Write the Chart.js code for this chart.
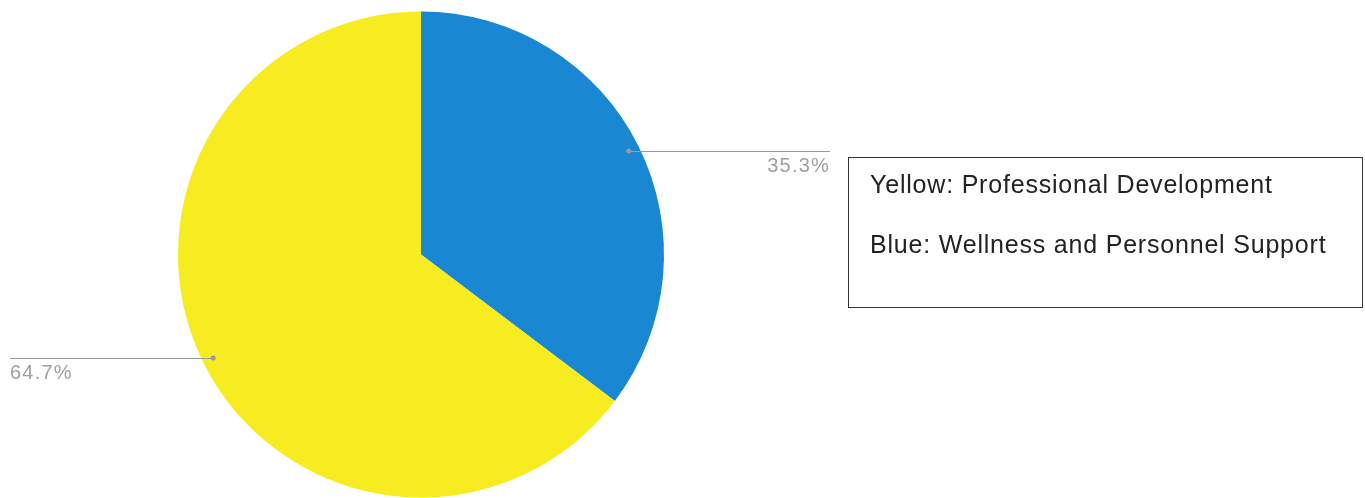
<!DOCTYPE html>
<html lang="en">
<head>
    <meta charset="UTF-8">
    <title>Support Split</title>
    <script src="https://cdn.jsdelivr.net/npm/chart.js@4/dist/chart.umd.min.js"></script>
    <style>
        body { margin: 0; background: #fff; width: 1365px; height: 498px; overflow: hidden; position: relative; font-family: "Liberation Sans", Arial, sans-serif; }
        #wrap { position: absolute; left: 0; top: 0; width: 1365px; height: 498px; }
        .key { position: absolute; left: 848px; top: 157px; width: 513px; height: 149px; border: 1px solid #333; }
        .key div { position: absolute; left: 21px; font-size: 25px; letter-spacing: 0.8px; color: #222; white-space: nowrap; }
    </style>
</head>
<body>
<div id="wrap"><canvas id="pieChart" width="1365" height="498"></canvas></div>
<div class="key" id="key"></div>

<script>
    // data
    const categories = ['Wellness and Personnel Support', 'Professional Development'];
    const colourNames = ['Blue', 'Yellow'];
    const shares = [35.3, 64.7];
    const colours = ['#1a87d3', '#f6ec1f'];

    // legend box, yellow first as in the original
    const key = document.getElementById('key');
    [1, 0].forEach((i, row) => {
        const d = document.createElement('div');
        d.style.top = (12 + row * 60) + 'px';
        d.textContent = colourNames[i] + ': ' + categories[i];
        key.appendChild(d);
    });

    // leader lines with the percentage under them
    const leaderLabels = {
        id: 'leaderLabels',
        afterDatasetsDraw(chart) {
            const ctx = chart.ctx;
            const total = shares.reduce((a, b) => a + b, 0);
            chart.getDatasetMeta(0).data.forEach((arc, i) => {
                const mid = (arc.startAngle + arc.endAngle) / 2;
                const r = arc.outerRadius * 0.955;
                const px = arc.x + Math.cos(mid) * r;
                const py = arc.y + Math.sin(mid) * r;
                const right = Math.cos(mid) >= 0;
                const endX = right ? 830 : 10;
                const txt = (shares[i] / total * 100).toFixed(1) + '%';

                ctx.save();
                ctx.strokeStyle = '#9a9a9a';
                ctx.lineWidth = 1;
                ctx.beginPath();
                ctx.moveTo(px, Math.round(py) + 0.5);
                ctx.lineTo(endX, Math.round(py) + 0.5);
                ctx.stroke();
                ctx.fillStyle = '#9a9a9a';
                ctx.beginPath();
                ctx.arc(px, py, 2.5, 0, Math.PI * 2);
                ctx.fill();

                ctx.font = '20px "Liberation Sans", Arial, sans-serif';
                ctx.letterSpacing = '1.2px';
                ctx.fillStyle = '#a0a0a0';
                ctx.textBaseline = 'alphabetic';
                ctx.textAlign = right ? 'right' : 'left';
                ctx.fillText(txt, endX, py + 21);
                ctx.restore();
            });
        }
    };

    new Chart(document.getElementById('pieChart'), {
        type: 'pie',
        data: {
            labels: categories,
            datasets: [{
                data: shares,
                backgroundColor: colours,
                borderWidth: 0
            }]
        },
        options: {
            responsive: false,
            animation: false,
            layout: { padding: { left: 178, right: 701, top: 11, bottom: 0 } },
            plugins: {
                legend: { display: false },
                tooltip: { enabled: false }
            }
        },
        plugins: [leaderLabels]
    });
</script>
</body>
</html>
